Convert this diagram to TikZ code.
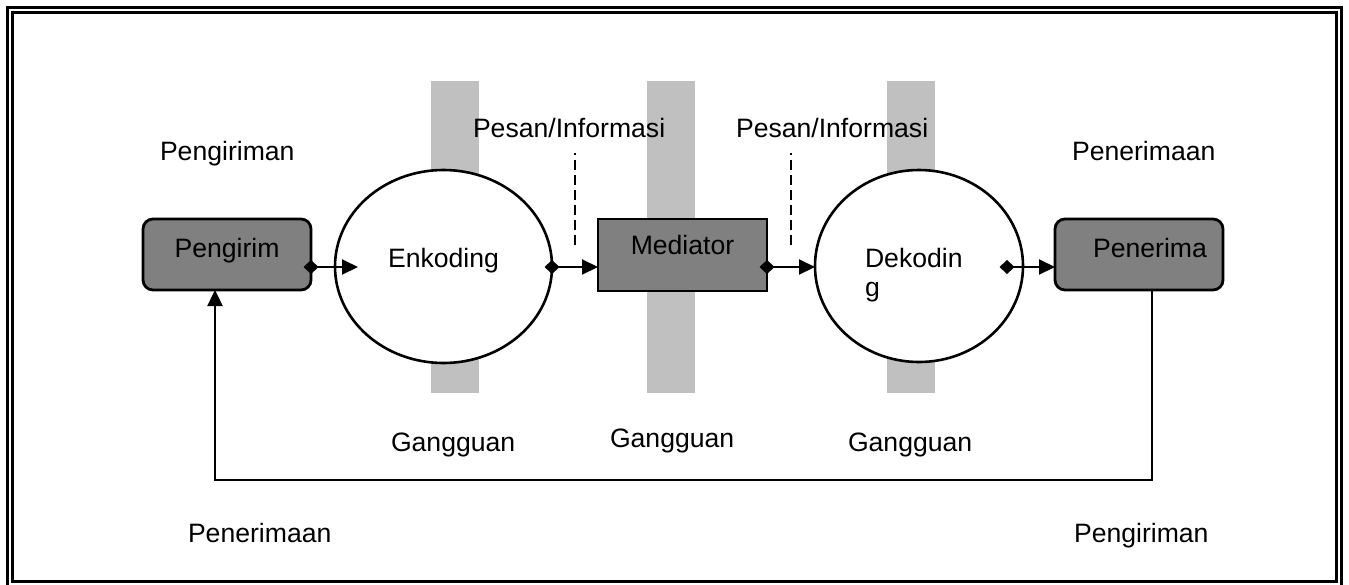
\documentclass[tikz,border=0pt]{standalone}
\usepackage{fontspec}
\setmainfont{Liberation Sans}
\usetikzlibrary{arrows.meta,shapes.geometric,calc}
\definecolor{boxgray}{HTML}{808080}
\definecolor{noisegray}{HTML}{C0C0C0}
\begin{document}
\begin{tikzpicture}[x=1pt,y=-1pt,
  txt/.style={font=\fontsize{26.6}{29}\selectfont, inner sep=0pt, outer sep=0pt},
  caption/.style={txt, anchor=base west},
  party/.style={txt, draw, line width=2.8pt, fill=boxgray, rounded corners=10pt,
    minimum width=168pt, minimum height=71pt, text height=19pt, text depth=14pt},
  relay/.style={txt, draw, line width=2.8pt, fill=boxgray,
    minimum width=169pt, minimum height=72pt, text height=19pt, text depth=21pt},
  coder/.style={txt, ellipse, draw, line width=2.6pt, fill=white},
  flow/.style={line width=2pt, {Diamond[length=15pt,width=14pt]}-{Triangle[length=16pt,width=15pt]}},
  feed/.style={line width=2.4pt, -{Triangle[length=16pt,width=15pt]}},
  hint/.style={line width=2pt, dash pattern=on 10pt off 5pt, dash phase=8pt},
  noise/.style={fill=noisegray},
]
\useasboundingbox (0,0) rectangle (1349,584);
\clip (0,0) rectangle (1349,584);

% double frame
\draw[line width=3pt] (7.5,7.5) rectangle (1341.5,588);
\draw[line width=3pt] (12.5,12.5) rectangle (1336.5,581.5);

% noise bands behind the channel
\fill[noise] (431,81) rectangle (479,393);
\fill[noise] (647,81) rectangle (695,393);
\fill[noise] (887,81) rectangle (935,393);

% stations
\node[party] (sender) at (227,254.5) {Pengirim};
\node[coder, minimum width=217pt, minimum height=193pt,
      text height=19pt, text depth=18pt] (enc) at (443.5,266.5) {Enkoding};
\node[relay] (med) at (682.5,255) {Mediator};
\node[coder, minimum width=208pt, minimum height=192pt, align=left,
      text width=108pt, text height=19pt, text depth=17pt] (dec) at (919,266) {Dekodin\\g};
\node[party] (recv) at (1139,254.5) {\hspace*{22pt}Penerima};

% helper points
\coordinate (lane) at (0,267);
\coordinate (encin) at (358,267);
\coordinate (decout) at (999.5,267);
\coordinate (fbR) at (1152,480);
\coordinate (fbL) at (215,480);
\coordinate (h1top) at (575,153);
\coordinate (h1bot) at (575,248);
\coordinate (h2top) at (791,153);
\coordinate (h2bot) at (791,248);

% message flow
\draw[flow] ($(sender.east |- lane)+(-7.5,0)$) -- (encin);
\draw[flow] ($(enc.east |- lane)+(-7.5,0)$) -- (med.west |- lane);
\draw[flow] ($(med.east |- lane)+(-7.5,0)$) -- (dec.west |- lane);
\draw[flow] (decout) -- (recv.west |- lane);

% feedback
\draw[feed] (recv.south -| fbR) -- (fbR) -- (fbL) -- (sender.south -| fbL);

% message markers
\draw[hint] (h1top) -- (h1bot);
\draw[hint] (h2top) -- (h2bot);

% captions
\node[caption] (sendA) at (160,160) {Pengiriman};
\node[caption] (msgA) at (473,137) {Pesan/Informasi};
\node[caption] (msgB) at (736,137) {Pesan/Informasi};
\node[caption] (recvA) at (1072,160) {Penerimaan};
\node[caption] (noiseA) at (391,451) {Gangguan};
\node[caption] (noiseB) at (610,447) {Gangguan};
\node[caption] (noiseC) at (848,451) {Gangguan};
\node[caption] (recvB) at (188,542) {Penerimaan};
\node[caption] (sendB) at (1074,542) {Pengiriman};
\end{tikzpicture}
\end{document}
